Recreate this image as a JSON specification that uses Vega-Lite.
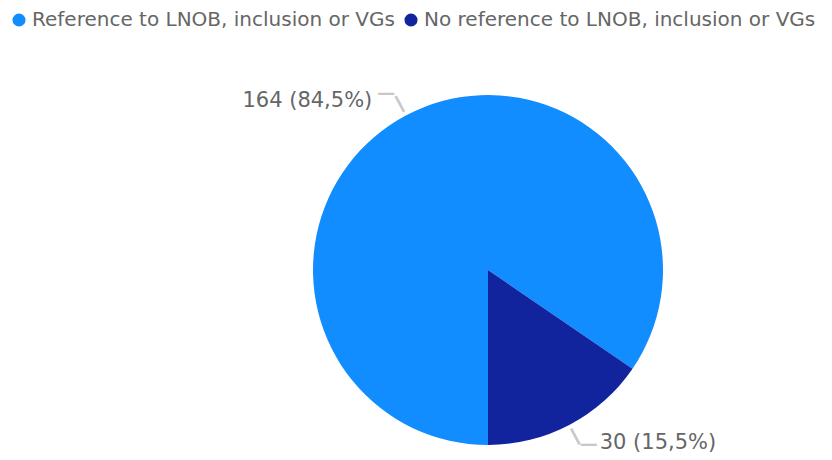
{
  "$schema": "https://vega.github.io/schema/vega-lite/v6.json",
  "width": 350,
  "height": 350,
  "autosize": {"type": "none"},
  "padding": {"left": 313, "top": 95, "right": 169, "bottom": 15},
  "background": "white",
  "config": {"view": {"stroke": null}, "font": "DejaVu Sans"},
  "data": {"values": [
    {"category": "Reference to LNOB, inclusion or VGs", "count": 164, "label": "164 (84,5%)", "rank": 1},
    {"category": "No reference to LNOB, inclusion or VGs", "count": 30, "label": "30 (15,5%)", "rank": 2}
  ]},
  "encoding": {
    "theta": {"field": "count", "type": "quantitative", "stack": true, "scale": {"range": [3.14159265, 9.42477796]}},
    "order": {"field": "rank", "type": "quantitative"}
  },
  "layer": [
    {
      "mark": {"type": "arc", "stroke": null},
      "encoding": {
        "color": {
          "field": "category", "type": "nominal",
          "scale": {"domain": ["Reference to LNOB, inclusion or VGs", "No reference to LNOB, inclusion or VGs"], "range": ["#118DFF", "#12239E"]},
          "legend": {
            "title": null, "orient": "none", "direction": "horizontal",
            "legendX": -304, "legendY": -85,
            "symbolType": "circle", "symbolSize": 170, "symbolStrokeWidth": 0,
            "labelFontSize": 20, "labelColor": "#666666", "labelFont": "DejaVu Sans",
            "columnPadding": 6, "labelOffset": 3, "padding": 0, "labelLimit": 500
          }
        }
      }
    },
    {
      "mark": {"type": "text", "radius": 188, "align": "center", "baseline": "middle", "angle": 62, "fontSize": 20, "fontWeight": "bold", "color": "#c8c8c8", "font": "DejaVu Sans"},
      "encoding": {"text": {"value": "—"}}
    },
    {
      "mark": {"type": "text", "radius": 190, "align": "center", "baseline": "middle", "dx": -13, "dy": -8, "fontSize": 18, "fontWeight": "bold", "color": "#c8c8c8", "font": "DejaVu Sans"},
      "encoding": {"text": {"condition": {"test": "datum.rank == 2", "value": ""}, "value": "—"}}
    },
    {
      "mark": {"type": "text", "radius": 190, "align": "center", "baseline": "middle", "dx": 12, "dy": 7, "fontSize": 18, "fontWeight": "bold", "color": "#c8c8c8", "font": "DejaVu Sans"},
      "encoding": {"text": {"condition": {"test": "datum.rank == 1", "value": ""}, "value": "—"}}
    },
    {
      "mark": {"type": "text", "radius": 190, "align": "right", "baseline": "middle", "dx": -27, "dy": -1, "fontSize": 21, "color": "#666666", "font": "DejaVu Sans"},
      "encoding": {"text": {"condition": {"test": "datum.rank == 2", "value": ""}, "field": "label"}}
    },
    {
      "mark": {"type": "text", "radius": 190, "align": "left", "baseline": "middle", "dx": 23, "dy": 5, "fontSize": 21, "color": "#666666", "font": "DejaVu Sans"},
      "encoding": {"text": {"condition": {"test": "datum.rank == 1", "value": ""}, "field": "label"}}
    }
  ]
}
